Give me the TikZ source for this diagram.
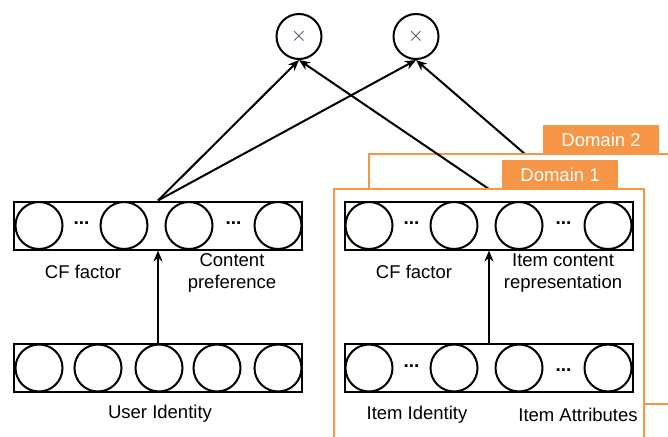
\documentclass[tikz,border=0pt]{standalone}
\usepackage{fontspec}
\setmainfont{Liberation Sans}
\usetikzlibrary{arrows.meta}
\definecolor{domorange}{RGB}{247,150,70}
\definecolor{crossgray}{RGB}{50,60,85}
\begin{document}
\begin{tikzpicture}[x=1pt,y=-1pt,
  lbl/.style={font=\fontsize{18.5}{21.5}\selectfont,align=center,inner sep=0pt},
  bar/.style={draw,line width=2pt,minimum width=288pt,minimum height=48pt,inner sep=0pt},
  unit/.style={draw,circle,line width=2pt,minimum size=47pt,inner sep=0pt},
  dots/.style={font=\fontsize{19}{20}\selectfont\bfseries,inner sep=0pt},
  mult/.style={draw,circle,line width=2pt,minimum size=45pt,inner sep=0pt,
    text=crossgray,font=\fontsize{21}{21}\selectfont},
  arr/.style={line width=2pt,-{Stealth[length=11pt,width=9pt]}},
  dombox/.style={draw=domorange,line width=2pt,fill=white},
  domtag/.style={fill=domorange,text=white,minimum width=116pt,minimum height=29pt,
    inner sep=0pt,font=\fontsize{18.5}{20}\selectfont}]
\clip (0,0) rectangle (668,436);
\fill[white] (0,0) rectangle (668,436);

% product nodes
\node[mult] (m1) at (299,36.5) {$\times$};
\node[mult] (m2) at (416,36.5) {$\times$};

% hidden start points of the item-side lines
\coordinate (d2src) at (540,167);
\coordinate (d1src) at (508,202);

% line from the domain-2 item vector (behind the domain-2 box)
\draw[arr] (d2src) -- (m2.south);

% domain 2 frame and tag
\draw[dombox] (369,154) rectangle (700,404);
\node[domtag] (tag2) at (601,139.5) {Domain 2};

% line from the domain-1 item vector (behind the domain-1 box)
\draw[arr] (d1src) -- (m1.south);

% domain 1 frame and tag
\draw[dombox] (334,189) rectangle (644,460);
\node[domtag] (tag1) at (560,174.5) {Domain 1};

% ---------- user side ----------
\node[bar] (ucf) at (158,225.5) {};
\foreach \x/\n in {39/1,124/2,189/3,278/4}
  \node[unit] (uc\n) at (\x,225.5) {};
\node[dots] (ud1) at (81.5,223) {...};
\node[dots] (ud2) at (233.5,223) {...};

\node[bar] (uid) at (158,368) {};
\foreach \x/\n in {39/1,98/2,159/3,217/4,278/5}
  \node[unit] (ui\n) at (\x,368) {};

\draw[arr] (uid.north) -- (ucf.south);
\draw[arr] (ucf.north) -- (m1.south);
\draw[arr] (ucf.north) -- (m2.south);

\node[lbl] (ucflbl) at (83,272) {CF factor};
\node[lbl] (uprlbl) at (232,273) {Content\\preference};
\node[lbl] (uidlbl) at (160,414) {User Identity};

% ---------- item side ----------
\node[bar] (icf) at (489,225.5) {};
\foreach \x/\n in {369/1,454/2,519/3,608/4}
  \node[unit] (ic\n) at (\x,225.5) {};
\node[dots] (id1) at (411.5,223) {...};
\node[dots] (id2) at (563.5,223) {...};

\node[bar] (iid) at (489,368) {};
\foreach \x/\n in {369/1,454/2,519/3,608/4}
  \node[unit] (ii\n) at (\x,368) {};
\node[dots] (id3) at (411.5,366) {...};
\node[dots] (id4) at (563.5,370) {...};

\draw[arr] (iid.north) -- (icf.south);

\node[lbl] (icflbl) at (414,272) {CF factor};
\node[lbl] (irplbl) at (563,273) {Item content\\representation};
\node[lbl] (iidlbl) at (417,415) {Item Identity};
\node[lbl] (iatlbl) at (578,415) {Item Attributes};
\end{tikzpicture}
\end{document}
